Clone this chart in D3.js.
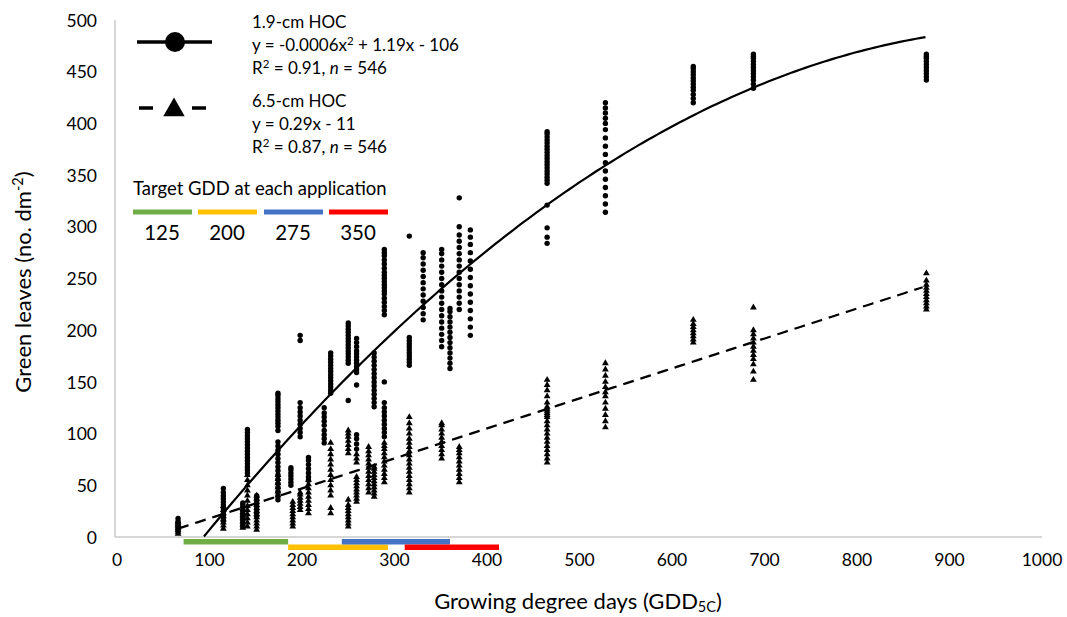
<!DOCTYPE html>
<html>
<head>
<meta charset="utf-8">
<script src="https://cdn.jsdelivr.net/npm/d3@7"></script>
<style>
  body { margin: 0; background: #fff; }
  svg { display: block; font-family: Lato, "Open Sans", sans-serif; }
</style>
</head>
<body>
<svg id="chart" width="1067" height="617"></svg>
<script>
// 잔디 녹엽 수 vs 생육도일 (GDD5C) 산점도 + 추세선

// 각 GDD 열과 측정값 (1.9-cm HOC, 원)
const hoc19Gdd = [66, 115, 136, 141, 151, 174, 188, 198, 207, 224, 231, 250, 259, 278, 289,
  316, 331, 351, 360, 370, 382, 465, 528, 623, 688, 875];
const hoc19Leaves = [
  [6, 9, 11, 13, 15, 18],
  [16, 19, 22, 25, 28, 31, 34, 37, 40, 43, 47],
  [10, 13, 16, 19, 22, 25, 28, 31, 33],
  [62, 65, 68, 71, 74, 77, 80, 83, 86, 89, 92, 95, 98, 101, 104],
  [20, 23, 26, 29, 32, 35, 38, 40],
  [36, 40, 44, 48, 52, 56, 60, 64, 68, 72, 76, 80, 84, 88, 92, 103, 107, 110, 113, 116, 119, 122, 125, 128, 131, 134, 137, 139],
  [50, 53, 56, 59, 62, 65, 67],
  [97, 101, 105, 109, 113, 117, 121, 125, 130, 190, 195],
  [55, 58, 62, 66, 70, 74, 77],
  [91, 95, 99, 103, 108, 112, 116, 120, 125],
  [139, 142, 145, 148, 151, 154, 157, 160, 163, 166, 169, 172, 175, 178],
  [132, 168, 171, 174, 177, 180, 183, 186, 189, 192, 195, 198, 201, 204, 207],
  [85, 90, 95, 99, 147, 159, 162, 165, 168, 171, 174, 177, 180, 184, 188, 192],
  [126, 130, 134, 138, 142, 146, 150, 154, 158, 162, 166, 170, 174, 178],
  [97, 101, 105, 109, 113, 117, 121, 125, 130, 150, 215, 219, 223, 227, 231, 235, 238, 241, 244, 247, 250, 253, 256, 260, 264, 268, 272, 275, 278],
  [166, 169, 172, 175, 178, 181, 184, 187, 190, 193, 291],
  [210, 216, 222, 228, 234, 240, 246, 252, 258, 264, 270, 275],
  [184, 190, 196, 202, 208, 214, 220, 226, 232, 238, 244, 250, 256, 262, 268, 274, 278],
  [163, 168, 173, 178, 183, 188, 193, 198, 203, 208, 213, 218, 221],
  [220, 226, 232, 238, 244, 250, 256, 262, 268, 274, 280, 286, 292, 300, 328],
  [195, 203, 211, 219, 227, 235, 243, 251, 259, 267, 275, 283, 290, 297],
  [284, 290, 299, 321, 342, 345, 348, 351, 354, 357, 360, 363, 366, 369, 372, 375, 378, 381, 384, 387, 390, 392],
  [314, 322, 330, 338, 346, 354, 362, 370, 378, 386, 394, 400, 405, 410, 415, 420],
  [420, 424, 428, 432, 435, 438, 441, 444, 447, 450, 453, 455],
  [434, 438, 442, 445, 448, 451, 454, 457, 460, 463, 465, 467],
  [442, 445, 448, 451, 454, 457, 460, 463, 465, 467]
];

// 6.5-cm HOC (삼각형)
const hoc65Gdd = [66, 115, 136, 141, 151, 174, 190, 198, 207, 231, 250, 259, 272, 278, 289,
  316, 351, 370, 465, 528, 623, 688, 875];
const hoc65Leaves = [
  [3, 5, 7, 9, 11, 13, 15],
  [8, 11, 14, 17, 20, 23, 26, 30],
  [9, 12, 15, 18, 21, 24, 27, 30],
  [10, 14, 18, 22, 26, 30, 35, 40, 45, 50, 55, 60],
  [7, 10, 13, 16, 19, 22, 25, 28, 31, 34, 37, 40],
  [40, 44, 48, 52, 56, 60],
  [10, 13, 16, 19, 22, 25, 28, 31, 34],
  [26, 29, 32, 35, 38, 41, 43],
  [23, 27, 31, 35, 39, 43, 47, 51, 55],
  [23, 28, 40, 45, 50, 55, 60, 65, 70, 75, 80, 85, 91],
  [10, 13, 16, 19, 22, 25, 28, 31, 36, 81, 85, 89, 93, 97, 100, 103],
  [34, 37, 40, 43, 46, 49, 52, 55, 58, 72, 76, 80],
  [43, 47, 51, 55, 59, 63, 67, 71, 75, 79, 83, 87],
  [39, 42, 45, 48, 51, 54, 57, 60, 63, 66, 68],
  [53, 57, 61, 65, 69, 73, 77, 81, 85, 88, 91],
  [43, 47, 51, 55, 59, 63, 67, 71, 75, 79, 83, 87, 91, 95, 100, 105, 110, 116],
  [76, 80, 84, 88, 92, 96, 100, 104, 108, 110],
  [53, 57, 61, 65, 69, 73, 77, 81, 84, 87],
  [72, 76, 80, 84, 88, 92, 96, 100, 104, 108, 112, 116, 118, 120, 122, 124, 126, 130, 136, 142, 147, 152],
  [106, 112, 118, 124, 130, 136, 140, 145, 150, 156, 162, 168],
  [188, 191, 194, 197, 200, 203, 206, 210],
  [152, 160, 167, 172, 176, 180, 184, 188, 192, 196, 200, 222],
  [220, 223, 226, 229, 232, 235, 238, 241, 244, 248, 255]
];

// 추세선 계수 (a, b, c: y = a x^2 + b x + c) 와 범위
// 범례의 반올림된 식 대신 그림 속 곡선 위치에 맞춤
const fit19 = [-0.0006, 1.2, -107];
const fit19Range = [94, 875];
const fit65 = [0, 0.29, -11];
const fit65Range = [66, 875];

// 처리 시기 막대 (GDD 시작, 끝)
const appTargets = ['125', '200', '275', '350'];
const appColors = ['#70ad47', '#ffc000', '#4472c4', '#ff0000'];
const appStart = [72, 185, 243, 311];
const appEnd = [185, 293, 360, 413];

const xTicks = [0, 100, 200, 300, 400, 500, 600, 700, 800, 900, 1000];
const yTicks = [0, 50, 100, 150, 200, 250, 300, 350, 400, 450, 500];

const svg = d3.select('#chart');
const x = d3.scaleLinear().domain([0, 1000]).range([117, 1042]);
const y = d3.scaleLinear().domain([0, 500]).range([537, 20]);

// 축선
svg.append('line')
  .attr('x1', x(0) - 2).attr('x2', x(0) - 2)
  .attr('y1', y(500)).attr('y2', y(0))
  .attr('stroke', '#c9c9c9').attr('stroke-width', 1.5);
svg.append('line')
  .attr('x1', x(0) - 2).attr('x2', x(1000))
  .attr('y1', y(0)).attr('y2', y(0))
  .attr('stroke', '#c9c9c9').attr('stroke-width', 1.5);

// 눈금 라벨
svg.append('g').selectAll('text')
  .data(yTicks)
  .join('text')
  .attr('x', 97)
  .attr('y', d => y(d))
  .attr('dy', '0.38em')
  .attr('text-anchor', 'end')
  .attr('font-size', 17.5)
  .text(d => d);

svg.append('g').selectAll('text')
  .data(xTicks)
  .join('text')
  .attr('x', d => x(d))
  .attr('y', 560)
  .attr('dy', '0.36em')
  .attr('text-anchor', 'middle')
  .attr('font-size', 17.5)
  .text(d => d);

// 처리 시기 막대 (축 아래)
svg.append('g').selectAll('rect')
  .data(appTargets)
  .join('rect')
  .attr('x', (d, i) => x(appStart[i]))
  .attr('width', (d, i) => x(appEnd[i]) - x(appStart[i]))
  .attr('y', (d, i) => i % 2 === 0 ? 539 : 544.5)
  .attr('height', 5.5)
  .attr('fill', (d, i) => appColors[i]);

// 추세선
function fitLine(coef, range) {
  const pts = d3.range(range[0], range[1] + 1, 5).map(g => [g, coef[0] * g * g + coef[1] * g + coef[2]]);
  return d3.line().x(d => x(d[0])).y(d => y(d[1]))(pts);
}

svg.append('path')
  .attr('d', fitLine(fit19, fit19Range))
  .attr('fill', 'none').attr('stroke', '#000').attr('stroke-width', 2.2);
svg.append('path')
  .attr('d', fitLine(fit65, fit65Range))
  .attr('fill', 'none').attr('stroke', '#000').attr('stroke-width', 2.2)
  .attr('stroke-dasharray', '11,7');

// 산점
const pts19 = hoc19Gdd.flatMap((g, i) => hoc19Leaves[i].map(v => [g, v]));
const pts65 = hoc65Gdd.flatMap((g, i) => hoc65Leaves[i].map(v => [g, v]));

svg.append('g').selectAll('circle')
  .data(pts19)
  .join('circle')
  .attr('cx', d => x(d[0]))
  .attr('cy', d => y(d[1]))
  .attr('r', 2.7)
  .attr('fill', '#000');

const tri = d3.symbol().type(d3.symbolTriangle).size(20);
svg.append('g').selectAll('path')
  .data(pts65)
  .join('path')
  .attr('d', tri)
  .attr('transform', d => `translate(${x(d[0])},${y(d[1])})`)
  .attr('fill', '#000');

// 범례
const lg = svg.append('g');
lg.append('line').attr('x1', 137).attr('x2', 212).attr('y1', 42).attr('y2', 42)
  .attr('stroke', '#000').attr('stroke-width', 3.5);
lg.append('circle').attr('cx', 175).attr('cy', 42).attr('r', 10).attr('fill', '#000');
lg.append('line').attr('x1', 139).attr('x2', 207).attr('y1', 108).attr('y2', 108)
  .attr('stroke', '#000').attr('stroke-width', 3.5).attr('stroke-dasharray', '14,39');
lg.append('path')
  .attr('d', d3.symbol().type(d3.symbolTriangle).size(200))
  .attr('transform', 'translate(174,110)')
  .attr('fill', '#000');

function legendText(yy, parts) {
  const t = lg.append('text').attr('x', 252).attr('y', yy).attr('font-size', 17);
  parts.forEach(p => {
    const s = t.append('tspan').text(p.t);
    if (p.sup) s.attr('font-size', 11.5).attr('dy', -6);
    if (p.back) s.attr('dy', 6);
    if (p.it) s.attr('font-style', 'italic');
  });
}
legendText(28, [{ t: '1.9-cm HOC' }]);
legendText(51, [{ t: 'y = -0.0006x' }, { t: '2', sup: true }, { t: ' + 1.19x - 106', back: true }]);
legendText(74, [{ t: 'R' }, { t: '2', sup: true }, { t: ' = 0.91, ', back: true }, { t: 'n', it: true }, { t: ' = 546' }]);
legendText(107, [{ t: '6.5-cm HOC' }]);
legendText(130, [{ t: 'y = 0.29x - 11' }]);
legendText(153, [{ t: 'R' }, { t: '2', sup: true }, { t: ' = 0.87, ', back: true }, { t: 'n', it: true }, { t: ' = 546' }]);

lg.append('text').attr('x', 133).attr('y', 195).attr('font-size', 18.5)
  .text('Target GDD at each application');

const legBarX = [133, 198, 264, 329];
lg.selectAll('rect.app')
  .data(appTargets)
  .join('rect')
  .attr('x', (d, i) => legBarX[i])
  .attr('y', 209.5)
  .attr('width', 59)
  .attr('height', 5)
  .attr('fill', (d, i) => appColors[i]);
lg.selectAll('text.app')
  .data(appTargets)
  .join('text')
  .attr('x', (d, i) => legBarX[i] + 29)
  .attr('y', 240)
  .attr('text-anchor', 'middle')
  .attr('font-size', 20.5)
  .text(d => d);

// 축 제목
const xt = svg.append('text').attr('x', 578).attr('y', 609)
  .attr('text-anchor', 'middle').attr('font-size', 22);
xt.append('tspan').text('Growing degree days (GDD');
xt.append('tspan').text('5C').attr('font-size', 14.5).attr('dy', 3);
xt.append('tspan').text(')').attr('dy', -3);

const yt = svg.append('text')
  .attr('transform', 'translate(31,282) rotate(-90)')
  .attr('text-anchor', 'middle').attr('font-size', 22);
yt.append('tspan').text('Green leaves (no. dm');
yt.append('tspan').text('-2').attr('font-size', 14.5).attr('dy', -8);
yt.append('tspan').text(')').attr('dy', 8);
</script>
</body>
</html>
